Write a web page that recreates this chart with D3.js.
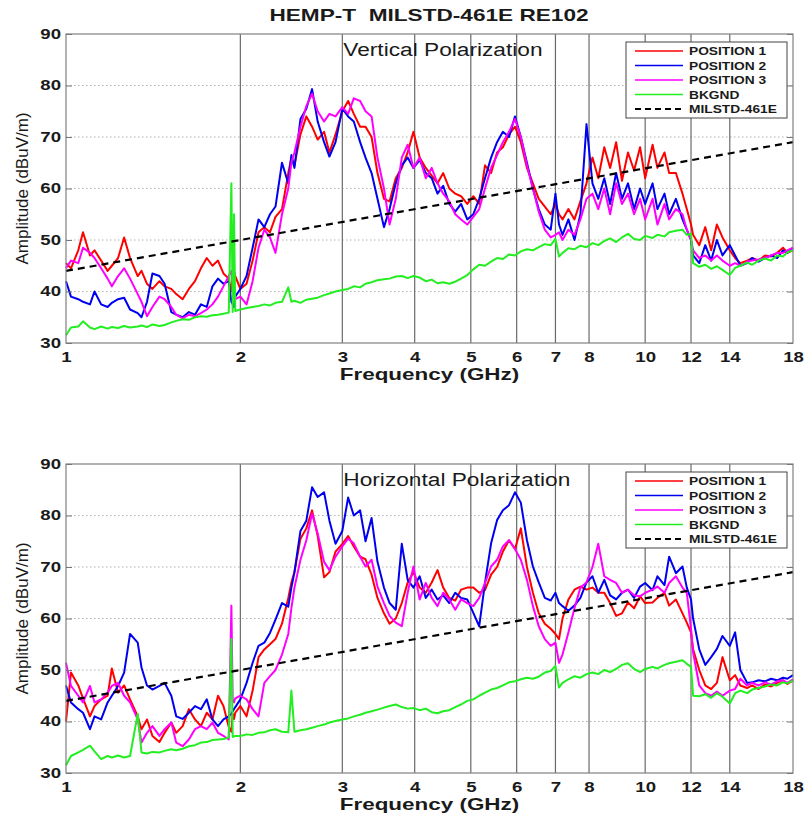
<!DOCTYPE html>
<html>
<head>
<meta charset="utf-8">
<script src="https://cdn.jsdelivr.net/npm/d3@7"></script>
<style>
  body { margin: 0; background: #fff; }
  svg { display: block; font-family: "Liberation Sans", Arial, sans-serif; }
</style>
</head>
<body>
<div class="container"></div>
<script>
// sample frequencies (GHz), shared by every trace
const freqGHz = [
  1.00, 1.02, 1.05, 1.07, 1.10, 1.12, 1.15, 1.18, 1.20, 1.23,
  1.26, 1.29, 1.33, 1.35, 1.38, 1.41, 1.45, 1.48, 1.52, 1.55,
  1.59, 1.63, 1.67, 1.71, 1.75, 1.79, 1.83, 1.87, 1.91, 1.93,
  1.94, 1.95, 1.96, 2.00, 2.05, 2.10, 2.15, 2.20, 2.25, 2.30,
  2.36, 2.42, 2.45, 2.48, 2.54, 2.60, 2.66, 2.72, 2.79, 2.85,
  2.92, 3.00, 3.07, 3.14, 3.22, 3.29, 3.37, 3.45, 3.54, 3.62,
  3.71, 3.80, 3.89, 3.98, 4.08, 4.18, 4.28, 4.38, 4.48, 4.59,
  4.70, 4.81, 4.93, 5.05, 5.17, 5.29, 5.42, 5.55, 5.68, 5.82,
  5.96, 6.10, 6.25, 6.40, 6.55, 6.71, 6.87, 7.00, 7.10, 7.20,
  7.37, 7.55, 7.73, 7.92, 8.11, 8.30, 8.50, 8.70, 8.91, 9.12,
  9.34, 9.57, 9.80, 10.0, 10.3, 10.5, 10.8, 11.0, 11.3, 11.6,
  11.8, 12.0, 12.1, 12.4, 12.7, 13.0, 13.3, 13.6, 14.0, 14.3,
  14.6, 15.0, 15.3, 15.7, 16.1, 16.5, 16.9, 17.3, 17.6, 18.0
];

// Vertical polarization (dBuV/m)
const vertPos1 = [
  45.5, 44.5, 48, 51.5, 47, 48, 46, 44, 45, 46.5,
  50.5, 46.5, 43, 44, 41.5, 40.5, 42, 41, 40.5, 39.5,
  38.5, 40.5, 42, 44.5, 46.5, 45, 46, 43.5, 42.5, 40,
  43, 44, 43, 40.5, 41.5, 46, 51.5, 52.5, 51.5, 54.5,
  56, 63, 66, 64.5, 70.5, 74, 72, 69.5, 71, 67,
  70.5, 75, 77, 74.5, 72, 72, 70, 63, 58, 57.5,
  62, 64, 67, 71, 66, 64, 62.5, 61, 63, 60,
  59, 58.5, 57, 58.5, 57, 64.5, 63, 67, 68, 70.5,
  72, 69, 64, 61, 58, 56.5, 55, 57, 55, 54,
  56, 54, 57.5, 61, 66, 62, 68, 64, 69, 61.5,
  67, 63.5, 68, 62, 68.5, 64, 67, 63, 63, 59,
  56, 53, 51, 49, 52.5, 48, 53, 50.5, 48, 46.5,
  45.5, 46, 46.5, 46, 47, 46.8, 47.5, 48.5, 47.5, 48
];
const vertPos2 = [
  42, 39, 38.5, 38, 37.5, 40, 37.5, 37, 37.8, 38.5,
  38.8, 36.5, 35.8, 35, 38, 43.5, 43, 41.5, 36, 35.5,
  35, 36, 35.5, 37.5, 37, 41, 42.5, 41.5, 42, 38,
  37.5, 37, 39, 40.5, 43, 48.5, 54, 52.5, 55, 56.5,
  65, 61, 66.5, 64, 73.5, 75.5, 79.3, 73, 69, 66.2,
  69, 75.5, 74, 73, 69, 66, 63, 58, 52.5, 56,
  61, 64.5, 66, 64, 65.5, 63, 62, 59, 60.5, 57,
  55.5, 57, 54, 55, 58, 62, 66, 69, 71, 70,
  74, 70, 65, 60, 56, 53, 52, 59, 53, 51,
  54, 50, 55, 72.5, 61, 58, 62, 57, 63, 58,
  61, 56, 60, 57, 61, 56, 59, 55, 58, 54,
  52, 50, 47, 45.5, 49, 46, 50, 47, 49, 47,
  45, 45.5, 46.5, 45.8, 46.5, 47, 46.5, 48, 47.5, 48.5
];
const vertPos3 = [
  44.5, 46, 45.5, 48.5, 47.5, 46.5, 44.5, 42.5, 41, 43,
  44.5, 42.5, 39.5, 38, 35.2, 37, 39, 38.5, 37, 35.5,
  34.8, 35.5, 35.2, 35.8, 36.5, 37.5, 39, 41, 43, 44,
  42, 39.5, 38.5, 39, 37.5, 42, 48.5, 52, 50.5, 47.5,
  55, 60, 65, 67, 72, 76, 78.4, 75, 73, 74.5,
  74, 75.8, 74.5, 77.5, 77, 75, 74, 66, 60, 53,
  58, 66, 68.5, 64, 66, 62, 64, 61, 59, 57.5,
  55, 54, 53, 54.5, 56, 60, 64, 66.5, 69, 71,
  73.5, 70, 64.5, 60, 55.5, 52, 50.5, 51, 51.5, 50,
  52, 51, 54, 58, 59, 56, 60, 55, 61, 57,
  59, 55, 58, 54, 58, 53, 57, 54, 56, 55,
  52, 50, 48, 46.5, 47, 46, 47, 46, 45, 45.5,
  45, 45.8, 46, 46.2, 46.5, 47, 47.5, 47.5, 48, 48.5
];
const vertBkgnd = [
  31.5, 33, 33.2, 34.2, 33, 32.7, 33.2, 32.8, 33.1, 32.9,
  33.3, 33, 33.2, 33.4, 33.1, 33.6, 33.3, 33.5, 34, 34.3,
  34.6, 34.5, 35, 35.2, 35.1, 35.4, 35.5, 35.7, 35.9, 61,
  36, 55, 36.2, 36.5, 36.8, 37, 37.2, 37.5, 37.3, 37.8,
  38, 40.8, 38, 38.2, 37.8, 38.4, 38.6, 38.8, 39.3, 39.6,
  40, 40.3, 40.5, 41, 40.8, 41.5, 41.8, 42.2, 42.4, 42.5,
  42.9, 43, 42.6, 43, 42.7, 42, 42.3, 41.6, 41.8, 41.5,
  41.9, 42.5, 43.2, 44.3, 45.2, 45, 45.8, 46.5, 46.3, 47.2,
  47, 47.8, 48.2, 48, 48.6, 49.2, 49, 50.2, 46.8, 47.5,
  48.4, 48.2, 48.9, 48.6, 49.4, 49, 49.8, 50.3, 49.6, 50.5,
  51.2, 50.2, 50, 50.8, 50.4, 51, 50.7, 51.5, 51.8, 52,
  51, 51.2, 45.5, 44.8, 45.2, 44.4, 44.9, 44.2, 43.2, 44.6,
  45, 45.6, 45.2, 46, 46.4, 46, 47, 46.8, 47.6, 48
];

// Horizontal polarization (dBuV/m)
const horzPos1 = [
  40, 49.5, 47, 44.5, 41, 43, 44.3, 45, 50.3, 45.6,
  47, 44.3, 41, 38.5, 40.4, 37.2, 36, 37.8, 39.8, 37.8,
  39.1, 42.4, 40.4, 39.1, 41.7, 40.4, 45, 43, 39, 38,
  41.5, 40.5, 41.7, 43, 41, 46, 52.5, 54, 55, 56,
  59, 64, 67, 69, 75.5, 77.5, 81, 76, 68, 69,
  73, 74.5, 76, 74, 72, 71.5, 68.5, 64, 61, 59,
  60, 63, 67, 69, 66, 65, 67, 69.4, 66, 64,
  63.5, 65.6, 66, 66, 65, 65.5, 68.5, 70, 73, 75.2,
  73.5, 77.5, 70, 65, 61, 59, 58, 57, 56, 60,
  63.7, 65.6, 66.2, 65.6, 66, 65, 65, 63, 60.5, 61,
  63.1, 62, 64.3, 63, 63.1, 64, 65, 62.5, 63.7, 61,
  59.2, 57.3, 54, 50, 47, 46.3, 47.5, 52.5, 48, 49,
  47, 46.5, 47, 46.3, 47.2, 46.8, 47.5, 48, 47.3, 48
];
const horzPos2 = [
  47, 43.7, 42.4, 41.7, 38.5, 41, 40.4, 43.7, 45, 46.9,
  49.5, 57, 55.3, 50.5, 47, 46.2, 46.9, 47.5, 45, 41,
  40.5, 41.7, 43, 42.4, 44.3, 40.4, 39.1, 40.4, 41, 41.5,
  42, 42.4, 42.8, 44.3, 47.5, 51.4, 54.7, 55.3, 57.2, 59.8,
  63, 62.3, 66, 69, 77, 79, 85.5, 83.6, 84.5, 79,
  74.5, 77, 83.5, 80, 81, 75, 79.5, 71, 66, 63,
  61.7, 74.5, 67.5, 66, 68.2, 64, 65.6, 63.7, 64.5, 63,
  65, 64, 63.7, 61.1, 58.5, 66.9, 74.6, 79.1, 81, 82,
  84.5, 82.5, 75.2, 70.1, 67, 64, 63.5, 65, 63, 62.4,
  61.5, 62.5, 64, 67, 68.2, 65, 67.5, 64.5, 63.7, 65,
  65.6, 64, 66.2, 66.9, 65.5, 68.2, 66.5, 72, 68.8, 70.1,
  66, 63.7, 60, 54, 51, 52.5, 54.1, 56.6, 54.7, 57.3,
  50, 47.5, 47.6, 48, 47.8, 48.3, 48, 48.5, 48.3, 49
];
const horzPos3 = [
  51.4, 46.9, 45, 43.7, 46.9, 43.7, 44.3, 45.6, 46.9, 47.5,
  45, 43.7, 40.4, 35.9, 37.8, 39.1, 37.2, 38.5, 39.8, 35.9,
  35.2, 36.5, 38.5, 39.1, 38.5, 39.8, 37.8, 37.2, 36.5, 62.5,
  44, 43.7, 44.5, 45, 44.3, 42.4, 41, 47.5, 48.8, 50,
  53, 57, 62, 66, 71.4, 75.2, 80.4, 76.5, 71, 69.4,
  72, 74, 75.5, 74.6, 72, 70.1, 71.4, 66.2, 63, 60.5,
  59.2, 58.5, 65, 70.1, 63.7, 66.9, 64, 62.4, 65, 63.7,
  61.7, 63.7, 63, 62.4, 64, 66.9, 70.1, 71.4, 74, 75.2,
  73.5, 71.4, 67.5, 62.4, 58.5, 56, 54.7, 55.3, 51.4, 53,
  57.3, 62, 66, 67, 70, 74.5, 68.2, 67.5, 66.9, 65,
  65.6, 64.5, 64.3, 65, 65.6, 66.2, 65, 66.9, 68.2, 66,
  65, 58, 53.4, 47, 45.5, 45, 45.8, 45, 46, 46.3,
  48.3, 47, 47.5, 47, 47.6, 47.2, 47.8, 48, 47.5, 48.2
];
const horzBkgnd = [
  31.5, 33.3, 34, 34.5, 35.3, 34.2, 32.7, 33.3, 33, 33.4,
  33, 33.3, 41.5, 34, 33.8, 34.1, 34, 34.3, 34.6, 34.4,
  34.7, 35.2, 35.4, 35.9, 36, 36.4, 36.5, 36.6, 36.9, 56,
  37, 37.1, 37.2, 37.2, 37.5, 37.4, 37.8, 37.9, 38.3, 38.5,
  38, 37.9, 46, 38, 38.3, 38.5, 38.8, 39.1, 39.4, 39.8,
  40.1, 40.4, 40.6, 41, 41.3, 41.7, 42, 42.3, 42.7, 43,
  43.3, 42.8, 42.5, 42.6, 42.2, 42.5, 41.8, 41.6, 42, 42.2,
  42.8, 43.3, 44, 44.3, 45, 45.6, 46.2, 46.5, 47, 47.6,
  47.8, 48.2, 48.5, 48.3, 48.7, 49.5, 49.8, 50.8, 46.6, 47.5,
  48.2, 48.8, 48.5, 49.2, 49.5, 49.2, 50, 49.6, 50.2, 51,
  51.3, 50.2, 49.6, 50.2, 50.6, 50.3, 51, 51.3, 51.6, 51.9,
  51.2, 50.6, 45, 44.9, 45.3, 44.6, 45.5, 44.8, 43.5, 45.5,
  46, 45.5, 46.2, 46.5, 46.8, 47.2, 47, 47.6, 47.4, 48
];

// MILSTD-461E RE102 limit, straight on the log axis
const limitFreq = [1, 18];
const limitDb = [44, 69];

const xTicks = [1, 2, 3, 4, 5, 6, 7, 8, 10, 12, 14, 18];
const yTicks = [30, 40, 50, 60, 70, 80, 90];
const seriesNames = ["POSITION 1", "POSITION 2", "POSITION 3", "BKGND", "MILSTD-461E"];
const seriesColors = ["#ff0000", "#0000f0", "#ff00ff", "#22ee22", "#000000"];

const width = 809, height = 820;

const panels = [
  {title: "Vertical Polarization", top: 34, bottom: 343, series: [vertPos1, vertPos2, vertPos3, vertBkgnd]},
  {title: "Horizontal Polarization", top: 464, bottom: 773, series: [horzPos1, horzPos2, horzPos3, horzBkgnd]}
];

const svg = d3.select(".container")
  .append("svg")
  .attr("width", width)
  .attr("height", height);

const x = d3.scaleLog().domain([1, 18]).range([66, 793]);

svg.append("text")
  .attr("x", 429)
  .attr("y", 21)
  .attr("text-anchor", "middle")
  .attr("font-weight", "bold")
  .attr("font-size", 17)
  .attr("fill", "#1a1a1a")
  .style("white-space", "pre")
  .text("HEMP-T  MILSTD-461E RE102")
  .call(widen, 1.33);

panels.forEach(p => {
  const y = d3.scaleLinear().domain([30, 90]).range([p.bottom, p.top]);
  const g = svg.append("g");

  // dotted horizontal grid
  g.append("g")
    .selectAll("line")
    .data(yTicks.slice(1, -1))
    .join("line")
    .attr("x1", x(1)).attr("x2", x(18))
    .attr("y1", d => y(d)).attr("y2", d => y(d))
    .attr("stroke", "#b0b0b0")
    .attr("stroke-dasharray", "1.5,2.5");

  // solid vertical grid
  g.append("g")
    .selectAll("line")
    .data(xTicks.slice(1, -1))
    .join("line")
    .attr("x1", d => x(d)).attr("x2", d => x(d))
    .attr("y1", p.top).attr("y2", p.bottom)
    .attr("stroke", "#6a6a6a")
    .attr("stroke-width", 1.2);

  const line = d3.line()
    .x((d, i) => x(freqGHz[i]))
    .y(d => y(d));

  g.append("g")
    .selectAll("path")
    .data(p.series)
    .join("path")
    .attr("fill", "none")
    .attr("stroke", (d, i) => seriesColors[i])
    .attr("stroke-width", 2)
    .attr("stroke-linejoin", "round")
    .attr("d", line);

  g.append("path")
    .datum(limitDb)
    .attr("fill", "none")
    .attr("stroke", "#000")
    .attr("stroke-width", 2.2)
    .attr("stroke-dasharray", "7,5")
    .attr("d", d3.line().x((d, i) => x(limitFreq[i])).y(d => y(d)));

  // frame
  g.append("rect")
    .attr("x", x(1)).attr("y", p.top)
    .attr("width", x(18) - x(1)).attr("height", p.bottom - p.top)
    .attr("fill", "none")
    .attr("stroke", "#808080")
    .attr("stroke-width", 1.2);

  g.append("g")
    .attr("transform", `translate(0,${p.bottom})`)
    .call(d3.axisBottom(x).tickValues(xTicks).tickFormat(d => d).tickSize(0))
    .attr("font-family", null)
    .call(a => a.select(".domain").remove())
    .call(a => a.selectAll("text")
      .attr("dy", null)
      .attr("y", 19)
      .attr("font-size", 14)
      .attr("font-weight", "bold")
      .attr("fill", "#1a1a1a")
      .call(widen, 1.33));

  g.append("g")
    .attr("transform", `translate(${x(1)},0)`)
    .call(d3.axisLeft(y).tickValues(yTicks).tickSize(-6).tickPadding(5))
    .attr("font-family", null)
    .call(a => a.select(".domain").remove())
    .call(a => a.selectAll("line").attr("stroke", "#777"))
    .call(a => a.selectAll("text")
      .attr("font-size", 14)
      .attr("font-weight", "bold")
      .attr("fill", "#1a1a1a")
      .call(widen, 1.33));

  g.append("g")
    .attr("transform", `translate(${x(18)},0)`)
    .call(d3.axisRight(y).tickValues(yTicks).tickSize(-6).tickFormat(""))
    .call(a => a.select(".domain").remove())
    .call(a => a.selectAll("line").attr("stroke", "#777"));

  g.append("text")
    .attr("x", (x(1) + x(18)) / 2)
    .attr("y", p.bottom + 37)
    .attr("text-anchor", "middle")
    .attr("font-size", 17)
    .attr("font-weight", "bold")
    .attr("fill", "#1a1a1a")
    .text("Frequency (GHz)")
    .call(widen, 1.32);

  g.append("text")
    .attr("transform", `translate(28,${(p.top + p.bottom) / 2}) rotate(-90)`)
    .attr("text-anchor", "middle")
    .attr("font-size", 17)
    .attr("fill", "#1a1a1a")
    .text("Amplitude (dBuV/m)");

  g.append("text")
    .attr("x", x(3) + 1)
    .attr("y", p.top + 22)
    .attr("font-size", 18)
    .attr("fill", "#1a1a1a")
    .text(p.title)
    .call(widen, 1.26);

  // legend
  const lg = g.append("g")
    .attr("transform", `translate(626,${p.top + 8})`);

  lg.append("rect")
    .attr("width", 161)
    .attr("height", 76)
    .attr("fill", "#fff")
    .attr("stroke", "#444");

  const row = lg.selectAll("g.row")
    .data(seriesNames)
    .join("g")
    .attr("class", "row")
    .attr("transform", (d, i) => `translate(0,${9 + i * 14.5})`);

  row.append("line")
    .attr("x1", 9).attr("x2", 57)
    .attr("stroke", (d, i) => seriesColors[i])
    .attr("stroke-width", (d, i) => i === 4 ? 2.2 : 1.6)
    .attr("stroke-dasharray", (d, i) => i === 4 ? "6,4" : null);

  row.append("text")
    .attr("x", 63)
    .attr("y", 4)
    .attr("font-size", 11)
    .attr("font-weight", "bold")
    .attr("fill", "#1a1a1a")
    .text(d => d)
    .call(widen, 1.25);
});

// the scanned original is stretched sideways, so stretch the glyphs to match
function widen(text, k) {
  text.each(function() {
    const w = this.getComputedTextLength();
    d3.select(this)
      .attr("textLength", w * k)
      .attr("lengthAdjust", "spacingAndGlyphs");
  });
}
</script>
</body>
</html>
